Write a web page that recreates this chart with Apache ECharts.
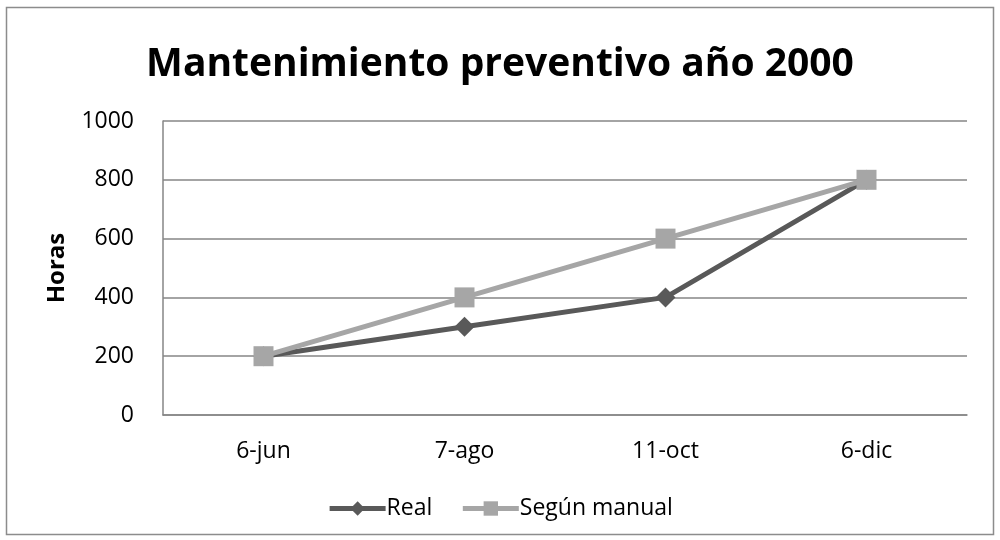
<!DOCTYPE html>
<html>
<head>
<meta charset="utf-8">
<script src="https://cdn.jsdelivr.net/npm/echarts@6/dist/echarts.min.js"></script>
<style>
  html, body { margin: 0; padding: 0; background: #fff; }
  #chart { width: 1000px; height: 540px; }
</style>
</head>
<body>
<div id="chart"></div>
<script>
// Fechas de mantenimiento y horas acumuladas
const categories = ['6-jun', '7-ago', '11-oct', '6-dic'];
const realHours = [200, 300, 400, 800];
const manualHours = [200, 400, 600, 800];
const yTicks = { min: 0, max: 1000, interval: 200 };

const FONT = '"Open Sans", "Noto Sans", sans-serif';
const chart = echarts.init(document.getElementById('chart'));

chart.setOption({
  backgroundColor: '#ffffff',
  animation: false,
  graphic: [{
    type: 'rect',
    shape: { x: 6.5, y: 7.5, width: 987, height: 527 },
    style: { fill: 'none', stroke: '#8c8c8c', lineWidth: 1.5 },
    silent: true
  }],
  title: {
    text: 'Mantenimiento preventivo año 2000',
    left: 'center',
    top: 40,
    textStyle: { fontFamily: FONT, fontSize: 39, fontWeight: 'bold', color: '#000' }
  },
  legend: {
    bottom: 15,
    left: 'center',
    itemWidth: 56,
    itemHeight: 18,
    itemGap: 28,
    lineStyle: { width: 5 },
    textStyle: { fontFamily: FONT, fontSize: 23, color: '#000', padding: [0, 0, 0, -4] },
    data: ['Real', 'Según manual']
  },
  grid: { left: 163, right: 33, top: 121, bottom: 125 },
  xAxis: {
    type: 'category',
    data: categories,
    boundaryGap: true,
    axisLine: { lineStyle: { color: '#868686', width: 1.5 } },
    axisTick: { show: false },
    axisLabel: { fontFamily: FONT, fontSize: 23, color: '#000', margin: 25 }
  },
  yAxis: {
    type: 'value',
    min: yTicks.min,
    max: yTicks.max,
    interval: yTicks.interval,
    name: 'Horas',
    nameLocation: 'middle',
    nameGap: 94,
    nameRotate: 90,
    nameTextStyle: { fontFamily: FONT, fontSize: 24, fontWeight: 'bold', color: '#000' },
    axisLine: { show: true, lineStyle: { color: '#868686', width: 1.5 } },
    axisTick: { show: false },
    splitLine: { lineStyle: { color: '#868686', width: 1.5 } },
    axisLabel: {
      fontFamily: FONT, fontSize: 23, color: '#000', margin: 29,
      formatter: v => String(v)
    }
  },
  series: [
    {
      name: 'Real',
      type: 'line',
      data: realHours,
      symbol: 'diamond',
      symbolSize: 20,
      lineStyle: { color: '#595959', width: 5 },
      itemStyle: { color: '#595959' },
      z: 2
    },
    {
      name: 'Según manual',
      type: 'line',
      data: manualHours,
      symbol: 'rect',
      symbolSize: 20,
      lineStyle: { color: '#a6a6a6', width: 5 },
      itemStyle: { color: '#a6a6a6' },
      z: 3
    }
  ]
});
</script>
</body>
</html>
